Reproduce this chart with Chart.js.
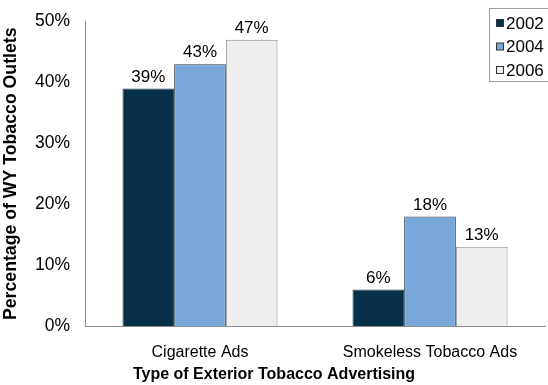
<!DOCTYPE html>
<html>
<head>
<meta charset="utf-8">
<script src="https://cdn.jsdelivr.net/npm/chart.js@4/dist/chart.umd.min.js"></script>
<style>
    html, body { margin: 0; padding: 0; background: #fff; }
    #wrap { width: 548px; height: 385px; position: relative; }
</style>
</head>
<body>
<div id="wrap"><canvas id="chart"></canvas></div>
<script>
// --- Datos ---
const categories = ['Cigarette Ads', 'Smokeless Tobacco Ads'];
const years = ['2002', '2004', '2006'];
const values2002 = [39, 6];
const values2004 = [43, 18];
const values2006 = [47, 13];
const yTicks = [0, 10, 20, 30, 40, 50];
const xTitle = 'Type of Exterior Tobacco Advertising';

const colors = ['#062f48', '#77a8d9', '#efefef'];
const font = '"Liberation Sans", Arial, sans-serif';

// etiquetas encima de cada barra
const barLabels = {
    id: 'barLabels',
    afterDatasetsDraw(chart) {
        const ctx = chart.ctx;
        ctx.save();
        ctx.font = '17px ' + font;
        ctx.fillStyle = '#000';
        ctx.textAlign = 'center';
        ctx.textBaseline = 'bottom';
        chart.data.datasets.forEach((ds, i) => {
            chart.getDatasetMeta(i).data.forEach((bar, j) => {
                ctx.fillText(ds.data[j] + '%', bar.x, bar.y - 3);
            });
        });
        ctx.restore();
    }
};

// titulo del eje X centrado en todo el lienzo, no en el eje
const xAxisTitle = {
    id: 'xAxisTitle',
    afterDraw(chart) {
        const ctx = chart.ctx;
        ctx.save();
        ctx.font = 'bold 16px ' + font;
        ctx.fillStyle = '#000';
        ctx.textAlign = 'center';
        ctx.textBaseline = 'middle';
        ctx.fillText(xTitle, chart.width / 2, 375);
        ctx.restore();
    }
};

// leyenda dibujada a mano (se sale por la derecha como en el original)
const boxLegend = {
    id: 'boxLegend',
    afterDraw(chart) {
        const ctx = chart.ctx;
        const x0 = 489, y0 = 8;
        ctx.save();
        ctx.fillStyle = '#fff';
        ctx.fillRect(x0, y0, 70, 73);
        ctx.strokeStyle = '#a0a0a0';
        ctx.lineWidth = 1;
        ctx.strokeRect(x0 + 0.5, y0 + 0.5, 70, 73);
        ctx.font = '17px ' + font;
        ctx.textBaseline = 'middle';
        chart.data.datasets.forEach((ds, i) => {
            const cy = y0 + 15 + i * 23.5;
            ctx.fillStyle = ds.backgroundColor;
            ctx.fillRect(x0 + 7.5, cy - 3.5, 7, 7);
            ctx.strokeStyle = '#333';
            ctx.strokeRect(x0 + 7.5, cy - 3.5, 7, 7);
            ctx.fillStyle = '#000';
            ctx.fillText(ds.label, x0 + 17, cy + 1);
        });
        ctx.restore();
    }
};

const seriesValues = [values2002, values2004, values2006];

new Chart(document.getElementById('chart'), {
    type: 'bar',
    data: {
        labels: categories,
        datasets: years.map((y, i) => ({
            label: y,
            data: seriesValues[i],
            backgroundColor: colors[i],
            borderColor: i === 2 ? '#8a8a8a' : '#2a3a48',
            borderWidth: 1,
            borderSkipped: 'bottom',
            categoryPercentage: 0.674,
            barPercentage: 1
        }))
    },
    options: {
        responsive: true,
        maintainAspectRatio: false,
        animation: false,
        layout: { padding: { top: 17, right: 3, left: 0, bottom: 0 } },
        plugins: {
            legend: { display: false },
            tooltip: { enabled: false }
        },
        scales: {
            x: {
                grid: { display: false, drawTicks: false },
                border: { color: '#8c8c8c', width: 1 },
                ticks: {
                    color: '#000',
                    font: { family: font, size: 16 },
                    padding: 17
                },
                afterFit(scale) { scale.height = 59; }
            },
            y: {
                min: 0,
                max: 50,
                afterBuildTicks(scale) {
                    scale.ticks = yTicks.map(v => ({ value: v }));
                },
                grid: { display: false, drawTicks: true, tickLength: 4, color: '#8c8c8c' },
                border: { color: '#8c8c8c', width: 1 },
                ticks: {
                    color: '#000',
                    font: { family: font, size: 17.5 },
                    padding: 11,
                    callback: v => v + '%'
                },
                title: {
                    display: true,
                    text: 'Percentage of WY Tobacco Outlets',
                    color: '#000',
                    font: { family: font, size: 17.7, weight: 'bold' },
                    padding: { top: 0, bottom: 2 }
                },
                afterFit(scale) { scale.width = 85; }
            }
        }
    },
    plugins: [barLabels, xAxisTitle, boxLegend]
});
</script>
</body>
</html>
